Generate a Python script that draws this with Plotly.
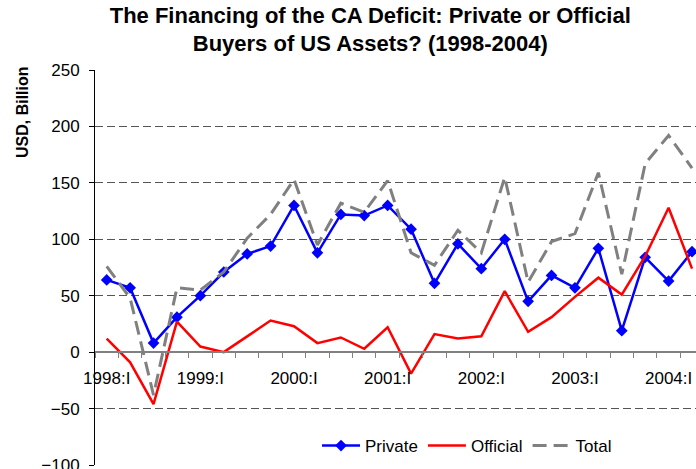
import plotly.graph_objects as go

quarters = [f"{y}:{q}" for y in range(1998, 2005) for q in ["I", "II", "III", "IV"]][:26]
private = [64, 57, 8, 31, 50, 71, 87, 94, 130, 88, 122, 121, 130, 109, 61, 96,
           74, 100, 45, 68, 57, 92, 19, 84, 63, 89]
official = [12, -9, -46, 27, 5, 0, 14, 28, 23, 8, 13, 3, 22, -19, 16, 12,
            14, 54, 18, 31, 49, 66, 51, 85, 128, 74]
total = [76, 48, -38, 57, 55, 71, 101, 122, 153, 95, 132, 124, 152, 88, 77, 108,
         88, 155, 62, 98, 105, 159, 69, 167, 192, 163]
y_ticks = [-100, -50, 0, 50, 100, 150, 200, 250]

x = list(range(len(quarters)))
major_idx = [i for i, q in enumerate(quarters) if q.endswith(":I")]
major_txt = [quarters[i] for i in major_idx]
boundaries = [i - 0.5 for i in range(len(quarters) + 1)]

FONT = "Liberation Sans, Arial, sans-serif"

fig = go.Figure()
fig.add_trace(go.Scatter(x=x, y=private, name="Private", mode="lines+markers",
                         line=dict(color="#0000FF", width=2.5),
                         marker=dict(symbol="diamond", size=9, color="#0000FF")))
fig.add_trace(go.Scatter(x=x, y=official, name="Official", mode="lines",
                         line=dict(color="#FF0000", width=2.5)))
fig.add_trace(go.Scatter(x=x, y=total, name="Total", mode="lines",
                         line=dict(color="#808080", width=3, dash="14px,7px")))

fig.update_layout(
    width=696, height=469,
    margin=dict(l=95, r=0, t=70, b=4, autoexpand=False),
    paper_bgcolor="white", plot_bgcolor="white",
    font=dict(family=FONT, size=17, color="black"),
    title=dict(text="<b>The Financing of the CA Deficit: Private or Official<br>Buyers of US Assets? (1998-2004)</b>",
               x=0.532, xref="container", xanchor="center",
               y=0.952, yref="container", yanchor="top",
               font=dict(size=22, family=FONT, color="black")),
    showlegend=True,
    legend=dict(orientation="h", x=0.619, xanchor="center", y=0.048, yanchor="middle",
                bgcolor="rgba(0,0,0,0)", font=dict(size=17), itemwidth=38),
    xaxis=dict(range=[-0.5, 25.17], anchor="free", position=100 / 350,
               automargin=False,
               showgrid=False, zeroline=False,
               showline=True, linecolor="#808080", linewidth=2,
               tickmode="array", tickvals=major_idx, ticktext=major_txt,
               ticks="outside", ticklen=10, tickcolor="rgba(0,0,0,0)",
               tickfont=dict(size=17),
               minor=dict(tickmode="array", tickvals=boundaries, ticks="outside",
                          ticklen=5, tickcolor="#808080", tickwidth=1, showgrid=False)),
    yaxis=dict(range=[-100, 250], tickmode="array", tickvals=y_ticks,
               automargin=False,
               showgrid=True, gridcolor="#555555", griddash="8px,4px", gridwidth=1,
               zeroline=False, showline=True, linecolor="black", linewidth=1,
               ticks="outside", ticklen=5, tickcolor="black",
               ticklabelstandoff=6, ticklabeloverflow="allow",
               tickfont=dict(size=17)),
    annotations=[dict(text="<b>USD, Billion</b>", textangle=-90,
                      x=(22 - 95) / 601, y=(465 - 112) / 395,
                      xref="paper", yref="paper", showarrow=False,
                      xanchor="center", yanchor="middle",
                      font=dict(size=16, family=FONT, color="black"))],
)

fig.write_html("out.html", config={"displayModeBar": False},
               post_script="document.body.style.margin='0';document.body.style.padding='0';document.body.style.overflow='hidden';")
